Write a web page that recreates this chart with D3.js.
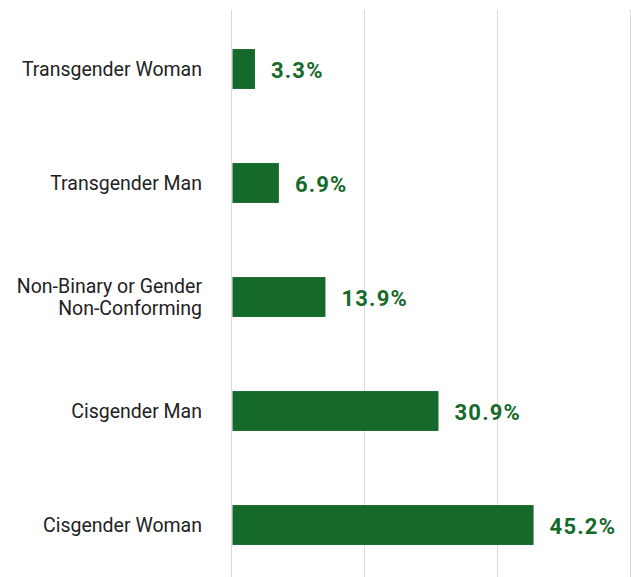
<!DOCTYPE html>
<html>
<head>
<meta charset="utf-8">
<script src="https://cdn.jsdelivr.net/npm/d3@7"></script>
<style>
  html, body { margin: 0; padding: 0; background: #fff; }
  svg { display: block; }
</style>
</head>
<body>
<svg id="chart" width="631" height="577"></svg>
<script>
// data
const categories = ["Transgender Woman", "Transgender Man", "Non-Binary or Gender|Non-Conforming", "Cisgender Man", "Cisgender Woman"];
const values = [3.3, 6.9, 13.9, 30.9, 45.2];
const gridTicks = [0, 20, 40, 60];

const width = 631, height = 577;
const margin = { top: 10, right: 0, bottom: 0, left: 232 };

const svg = d3.select("#chart");

const xScale = d3.scaleLinear()
    .domain([0, 60])
    .range([margin.left, width]);

const yScale = d3.scaleBand()
    .domain(categories)
    .range([12, 582])
    .paddingInner(0.65)
    .paddingOuter(0.325);

/* vertical gridlines */
svg.append("g")
    .selectAll("line")
    .data(gridTicks)
    .enter().append("line")
    .attr("x1", d => Math.round(xScale(d)) - 0.5)
    .attr("x2", d => Math.round(xScale(d)) - 0.5)
    .attr("y1", margin.top)
    .attr("y2", height)
    .attr("stroke", "#d9d9d9")
    .attr("stroke-width", 1);

const rows = categories.map((c, i) => ({ cat: c, val: values[i] }));

svg.append("g")
    .selectAll("rect")
    .data(rows)
    .enter().append("rect")
    .attr("x", xScale(0) + 0.5)
    .attr("y", d => yScale(d.cat))
    .attr("width", d => xScale(d.val) - xScale(0) + 0.5)
    .attr("height", yScale.bandwidth())
    .attr("fill", "#156a2b");

/* value labels */
svg.append("g")
    .selectAll("text")
    .data(rows)
    .enter().append("text")
    .attr("x", d => xScale(d.val) + 17)
    .attr("y", d => yScale(d.cat) + yScale.bandwidth() / 2 + 3)
    .attr("dominant-baseline", "middle")
    .style("font-family", "Roboto, sans-serif")
    .style("font-size", "22px")
    .style("font-weight", "700")
    .style("letter-spacing", "1.2px")
    .style("fill", "#156a2b")
    .text(d => d.val.toFixed(1) + "%");

/* category labels */
const labels = svg.append("g")
    .selectAll("text")
    .data(rows)
    .enter().append("text")
    .attr("text-anchor", "end")
    .attr("dominant-baseline", "middle")
    .style("font-family", "Roboto, sans-serif")
    .style("font-size", "19.5px")
    .style("fill", "#222");

labels.each(function (d) {
    const lines = d.cat.split("|");
    const cy = yScale(d.cat) + yScale.bandwidth() / 2 + 2;
    const lh = 22;
    lines.forEach((ln, j) => {
        d3.select(this).append("tspan")
            .attr("x", 202)
            .attr("y", cy + (j - (lines.length - 1) / 2) * lh)
            .text(ln);
    });
});
</script>
</body>
</html>
